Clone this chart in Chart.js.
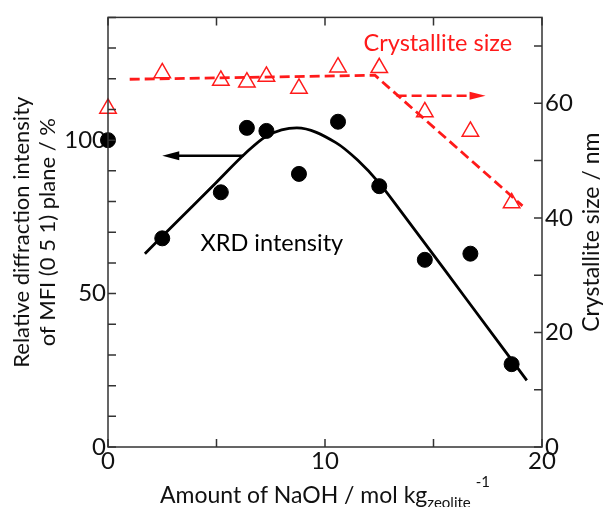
<!DOCTYPE html>
<html>
<head>
<meta charset="utf-8">
<script src="https://cdn.jsdelivr.net/npm/chart.js@4.4.0/dist/chart.umd.min.js"></script>
<style>
  html, body { margin: 0; padding: 0; background: #fff; }
  #wrap { width: 604px; height: 507px; }
</style>
</head>
<body>
<div id="wrap"><canvas id="chart"></canvas></div>
<script>
// measured points
const naohAmount = [0, 2.5, 5.2, 6.4, 7.3, 8.8, 10.6, 12.5, 14.6, 16.7, 18.6];
const xrdIntensity = [100, 68, 83, 104, 103, 89, 106, 85, 61, 63, 27];
const crystalliteSize = [59.1, 65.3, 64, 63.7, 64.7, 62.6, 66.3, 66.2, 58.5, 55.1, 42.6];

// guide lines
const xrdCurveX = [1.7, 3.3, 5.0, 6.3, 7.3, 8.7, 10.5, 11.5, 12.5, 13.5, 16.4, 19.3];
const xrdCurveY = [63, 74.3, 86.3, 95.5, 101.3, 104, 99.2, 93.5, 86, 76.8, 49.3, 21.7];
const sizeTrendX = [1, 12.3, 19.1];
const sizeTrendY = [64.2, 64.9, 42.1];

// tick labels
const xTickLabels = [0, 10, 20];
const leftTickLabels = [0, 50, 100];
const rightTickLabels = [0, 20, 40, 60];

const FONT = 'Lato, "Open Sans", sans-serif';
const RED = '#ff1a1a';
const AXIS = '#333';

const toXY = (xs, ys) => xs.map((x, i) => ({x: x, y: ys[i]}));

// frame, inward ticks, arrows, labels and axis titles
const decorations = {
    id: 'decorations',
    afterDatasetsDraw(chart) {
        const {ctx, chartArea: a, scales} = chart;
        const {x, y, y2} = scales;
        ctx.save();

        // frame
        ctx.strokeStyle = AXIS;
        ctx.lineWidth = 1.5;
        ctx.strokeRect(a.left, a.top, a.right - a.left, a.bottom - a.top);

        // ticks pointing inside
        const len = 8;
        ctx.beginPath();
        x.ticks.forEach(t => {
            const px = x.getPixelForValue(t.value);
            ctx.moveTo(px, a.bottom); ctx.lineTo(px, a.bottom - len);
            ctx.moveTo(px, a.top); ctx.lineTo(px, a.top + len);
        });
        y.ticks.forEach(t => {
            const py = y.getPixelForValue(t.value);
            ctx.moveTo(a.left, py); ctx.lineTo(a.left + len, py);
        });
        y2.ticks.forEach(t => {
            const py = y2.getPixelForValue(t.value);
            ctx.moveTo(a.right, py); ctx.lineTo(a.right - len, py);
        });
        ctx.stroke();

        // black arrow -> left axis
        let ay = y.getPixelForValue(94.9);
        let x0 = x.getPixelForValue(6.25), x1 = x.getPixelForValue(2.5);
        ctx.strokeStyle = '#000';
        ctx.fillStyle = '#000';
        ctx.lineWidth = 2.5;
        ctx.beginPath();
        ctx.moveTo(x0, ay); ctx.lineTo(x1 + 12, ay);
        ctx.stroke();
        ctx.beginPath();
        ctx.moveTo(x1, ay); ctx.lineTo(x1 + 17, ay - 4.5); ctx.lineTo(x1 + 17, ay + 4.5);
        ctx.closePath();
        ctx.fill();

        // red dashed arrow -> right axis
        ay = y2.getPixelForValue(61.3);
        x0 = x.getPixelForValue(13.3); x1 = x.getPixelForValue(17.4);
        ctx.strokeStyle = RED;
        ctx.fillStyle = RED;
        ctx.lineWidth = 2.5;
        ctx.setLineDash([10, 5]);
        ctx.beginPath();
        ctx.moveTo(x0, ay); ctx.lineTo(x1 - 12, ay);
        ctx.stroke();
        ctx.setLineDash([]);
        ctx.beginPath();
        ctx.moveTo(x1, ay); ctx.lineTo(x1 - 16, ay - 4); ctx.lineTo(x1 - 16, ay + 4);
        ctx.closePath();
        ctx.fill();

        // series labels
        ctx.font = '23.5px ' + FONT;
        ctx.textAlign = 'center';
        ctx.textBaseline = 'middle';
        ctx.fillStyle = RED;
        ctx.fillText('Crystallite size', x.getPixelForValue(15.2), y2.getPixelForValue(70.4));
        ctx.fillStyle = '#000';
        ctx.fillText('XRD intensity', x.getPixelForValue(7.55), y.getPixelForValue(66.4));

        // axis titles
        const midY = (a.top + a.bottom) / 2;
        ctx.fillStyle = '#111';
        ctx.font = '22px ' + FONT;
        ctx.save();
        ctx.translate(22, midY);
        ctx.rotate(-Math.PI / 2);
        ctx.fillText('Relative diffraction intensity', 0, 0);
        ctx.restore();
        ctx.save();
        ctx.translate(48, midY);
        ctx.rotate(-Math.PI / 2);
        ctx.fillText('of MFI (0 5 1) plane / %', 0, 0);
        ctx.restore();
        ctx.font = '23px ' + FONT;
        ctx.save();
        ctx.translate(592, midY);
        ctx.rotate(-Math.PI / 2);
        ctx.fillText('Crystallite size / nm', 0, 0);
        ctx.restore();

        // x title with subscript and superscript
        const main = 'Amount of NaOH / mol kg';
        const sub = 'zeolite';
        const sup = '-1';
        ctx.textAlign = 'left';
        ctx.textBaseline = 'alphabetic';
        ctx.font = '23px ' + FONT;
        const wMain = ctx.measureText(main).width;
        ctx.font = '15px ' + FONT;
        const wSub = ctx.measureText(sub).width;
        const wSup = ctx.measureText(sup).width;
        const total = wMain + wSub + 5 + wSup;
        let tx = (a.left + a.right) / 2 - total / 2;
        const base = 503;
        ctx.font = '23px ' + FONT;
        ctx.fillText(main, tx, base);
        tx += wMain;
        ctx.font = '15px ' + FONT;
        ctx.fillText(sub, tx, base + 5);
        tx += wSub + 5;
        ctx.fillText(sup, tx, base - 16);

        ctx.restore();
    }
};

const tickFont = {family: FONT, size: 24};

new Chart(document.getElementById('chart'), {
    type: 'scatter',
    data: {
        datasets: [
            {
                label: 'XRD intensity',
                data: toXY(naohAmount, xrdIntensity),
                yAxisID: 'y',
                pointRadius: 7.5,
                pointBackgroundColor: '#000',
                pointBorderColor: '#000',
                showLine: false,
                clip: false,
                order: 1
            },
            {
                label: 'XRD trend',
                data: toXY(xrdCurveX, xrdCurveY),
                yAxisID: 'y',
                showLine: true,
                pointRadius: 0,
                borderColor: '#000',
                borderWidth: 2.8,
                cubicInterpolationMode: 'monotone',
                order: 2
            },
            {
                label: 'Crystallite size',
                data: toXY(naohAmount, crystalliteSize),
                yAxisID: 'y2',
                pointStyle: 'triangle',
                pointRadius: 9.5,
                pointBorderWidth: 1.5,
                pointBorderColor: RED,
                pointBackgroundColor: 'rgba(255,255,255,0)',
                showLine: false,
                clip: false,
                order: 3
            },
            {
                label: 'Size trend',
                data: toXY(sizeTrendX, sizeTrendY),
                yAxisID: 'y2',
                showLine: true,
                pointRadius: 0,
                borderColor: RED,
                borderWidth: 2.8,
                borderDash: [10, 5],
                tension: 0,
                order: 4
            }
        ]
    },
    options: {
        responsive: true,
        maintainAspectRatio: false,
        animation: false,
        layout: {padding: {top: 14, left: 0, right: 0, bottom: 0}},
        plugins: {
            legend: {display: false},
            tooltip: {enabled: false}
        },
        scales: {
            x: {
                type: 'linear',
                position: 'bottom',
                min: 0,
                max: 20,
                grid: {display: false, drawTicks: false},
                border: {display: false},
                ticks: {
                    stepSize: 5,
                    autoSkip: false,
                    maxRotation: 0,
                    padding: 0,
                    color: '#111',
                    font: tickFont,
                    callback: v => xTickLabels.includes(v) ? String(v) : ''
                },
                afterFit: s => { s.height = 60; }
            },
            y: {
                type: 'linear',
                position: 'left',
                min: 0,
                max: 140,
                grid: {display: false, drawTicks: false},
                border: {display: false},
                ticks: {
                    stepSize: 10,
                    autoSkip: false,
                    padding: 2,
                    color: '#111',
                    font: tickFont,
                    callback: v => leftTickLabels.includes(v) ? String(v) : ''
                },
                afterFit: s => { s.width = 108; }
            },
            y2: {
                type: 'linear',
                position: 'right',
                min: 0,
                max: 75,
                grid: {display: false, drawTicks: false},
                border: {display: false},
                ticks: {
                    stepSize: 10,
                    includeBounds: false,
                    autoSkip: false,
                    padding: 3,
                    color: '#111',
                    font: tickFont,
                    callback: v => rightTickLabels.includes(v) ? String(v) : ''
                },
                afterFit: s => { s.width = 62; }
            }
        }
    },
    plugins: [decorations]
});
</script>
</body>
</html>
